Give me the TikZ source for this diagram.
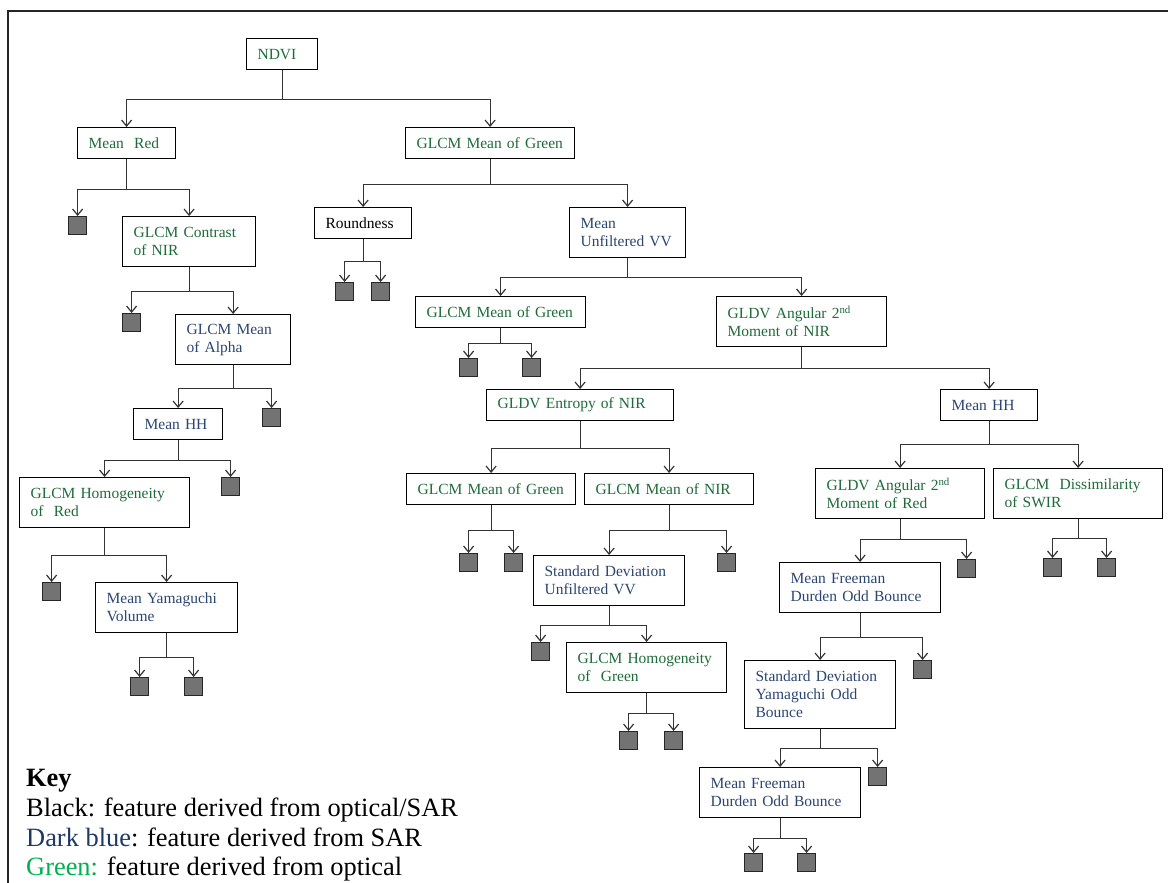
\documentclass[tikz,border=0pt]{standalone}
\usepackage{fontspec}
\setmainfont{Liberation Serif}
\usetikzlibrary{arrows.meta}
\definecolor{featgreen}{HTML}{1E6B3A}
\definecolor{featblue}{HTML}{2B4570}
\definecolor{keyblue}{HTML}{1F3864}
\definecolor{keygreen}{HTML}{00B050}
\begin{document}
\begin{tikzpicture}[x=1pt, y=-1pt,
        featbox/.style={draw=black, line width=1.2pt, anchor=north west, align=left, text width=#1, inner xsep=11pt, inner ysep=0pt, font=\fontsize{15.5}{18}\selectfont},
        lines1/.style={minimum height=31pt},
        lines2/.style={minimum height=50pt},
        lines3/.style={minimum height=68pt},
        leaf/.style={draw=black!85, fill=black!55, line width=1.2pt, anchor=north west, minimum width=18pt, minimum height=18pt, inner sep=0pt},
        link/.style={draw=black!80, line width=1.2pt, -{Straight Barb[length=6pt,width=10pt]}},
        keytext/.style={anchor=base west, inner sep=0pt, font=\fontsize{26.4}{30}\selectfont}]
        \useasboundingbox (0,0) rectangle (1168,883);
        \draw [line width=2pt, black!85] (1168,11) -- (8,11) -- (8,883);
        % feature boxes
        \node [featbox=49, lines1, text=featgreen] (ndvi) at (246,38) {NDVI};
        \node [featbox=76, lines1, text=featgreen] (meanred) at (77,127) {Mean~ Red};
        \node [featbox=147, lines1, text=featgreen] (glcmgreen) at (405,127) {GLCM Mean of Green};
        \node [featbox=111, lines2, text=featgreen] (contrastnir) at (122,216) {GLCM Contrast\\of NIR};
        \node [featbox=75, lines1] (roundness) at (314,207) {Roundness};
        \node [featbox=94, lines2, text=featblue] (meanvv) at (569,207) {Mean\\Unfiltered VV};
        \node [featbox=93, lines2, text=featblue] (alpha) at (175,314) {GLCM Mean\\of Alpha};
        \node [featbox=148, lines1, text=featgreen] (glcmgreenb) at (415,296) {GLCM Mean of Green};
        \node [featbox=148, lines2, text=featgreen] (angularnir) at (716,296) {GLDV Angular 2\textsuperscript{nd}\\Moment of NIR};
        \node [featbox=67, lines1, text=featblue] (meanhh) at (133,408) {Mean HH};
        \node [featbox=148, lines2, text=featgreen] (homogred) at (19,477) {GLCM Homogeneity\\of~ Red};
        \node [featbox=120, lines2, text=featblue] (yamvol) at (95,582) {Mean Yamaguchi\\Volume};
        \node [featbox=165, lines1, text=featgreen] (entropy) at (486,389) {GLDV Entropy of NIR};
        \node [featbox=75, lines1, text=featblue] (meanhhb) at (940,389) {Mean HH};
        \node [featbox=147, lines1, text=featgreen] (glcmgreenc) at (406,473) {GLCM Mean of Green};
        \node [featbox=147, lines1, text=featgreen] (meannir) at (584,473) {GLCM Mean of NIR};
        \node [featbox=129, lines2, text=featblue] (sdvv) at (533,555) {Standard Deviation\\Unfiltered VV};
        \node [featbox=138, lines2, text=featgreen] (homoggreen) at (566,642) {GLCM Homogeneity\\of~ Green};
        \node [featbox=147, lines2, text=featgreen] (angularred) at (815,468) {GLDV Angular 2\textsuperscript{nd}\\Moment of Red};
        \node [featbox=147, lines2, text=featgreen] (dissim) at (993,468) {GLCM~ Dissimilarity\\of SWIR};
        \node [featbox=139, lines2, text=featblue] (freeman) at (779,562) {Mean Freeman\\Durden Odd Bounce};
        \node [featbox=129, lines3, text=featblue] (sdyam) at (744,660) {Standard Deviation\\Yamaguchi Odd\\Bounce};
        \node [featbox=139, lines2, text=featblue] (freemanb) at (699,767) {Mean Freeman\\Durden Odd Bounce};
        % leaves
        \node [leaf] (meanredL) at (68,216) {};
        \node [leaf] (contrastnirL) at (122,313) {};
        \node [leaf] (alphaR) at (262,408) {};
        \node [leaf] (meanhhR) at (221,477) {};
        \node [leaf] (homogredL) at (42,582) {};
        \node [leaf] (yamvolL) at (130,677) {};
        \node [leaf] (yamvolR) at (184,677) {};
        \node [leaf] (roundnessL) at (335,282) {};
        \node [leaf] (roundnessR) at (371,282) {};
        \node [leaf] (glcmgreenbL) at (459,358) {};
        \node [leaf] (glcmgreenbR) at (522,358) {};
        \node [leaf] (glcmgreencL) at (459,553) {};
        \node [leaf] (glcmgreencR) at (504,553) {};
        \node [leaf] (meannirR) at (717,553) {};
        \node [leaf] (sdvvL) at (531,642) {};
        \node [leaf] (homoggreenL) at (619,731) {};
        \node [leaf] (homoggreenR) at (664,731) {};
        \node [leaf] (angularredR) at (957,559) {};
        \node [leaf] (dissimL) at (1043,558) {};
        \node [leaf] (dissimR) at (1097,558) {};
        \node [leaf] (freemanR) at (913,660) {};
        \node [leaf] (sdyamR) at (868,767) {};
        \node [leaf] (freemanbL) at (744,853) {};
        \node [leaf] (freemanbR) at (797,853) {};
        % links
        \draw [link] (ndvi.south) -- ++(0,29) -| (meanred.north);
        \draw [link] (ndvi.south) -- ++(0,29) -| (glcmgreen.north);
        \draw [link] (meanred.south) -- ++(0,30) -| (meanredL.north);
        \draw [link] (meanred.south) -- ++(0,30) -| (contrastnir.north);
        \draw [link] (glcmgreen.south) -- ++(0,25) -| (roundness.north);
        \draw [link] (glcmgreen.south) -- ++(0,25) -| (meanvv.north);
        \draw [link] (contrastnir.south) -- ++(0,24) -| (contrastnirL.north);
        \draw [link] (contrastnir.south) -- ++(0,24) -| (alpha.north);
        \draw [link] (alpha.south) -- ++(0,23) -| (meanhh.north);
        \draw [link] (alpha.south) -- ++(0,23) -| (alphaR.north);
        \draw [link] (meanhh.south) -- ++(0,20) -| (homogred.north);
        \draw [link] (meanhh.south) -- ++(0,20) -| (meanhhR.north);
        \draw [link] (homogred.south) -- ++(0,27) -| (homogredL.north);
        \draw [link] (homogred.south) -- ++(0,27) -| (yamvol.north);
        \draw [link] (yamvol.south) -- ++(0,24) -| (yamvolL.north);
        \draw [link] (yamvol.south) -- ++(0,24) -| (yamvolR.north);
        \draw [link] (roundness.south) -- ++(0,22) -| (roundnessL.north);
        \draw [link] (roundness.south) -- ++(0,22) -| (roundnessR.north);
        \draw [link] (meanvv.south) -- ++(0,19) -| (glcmgreenb.north);
        \draw [link] (meanvv.south) -- ++(0,19) -| (angularnir.north);
        \draw [link] (glcmgreenb.south) -- ++(0,15) -| (glcmgreenbL.north);
        \draw [link] (glcmgreenb.south) -- ++(0,15) -| (glcmgreenbR.north);
        \draw [link] (angularnir.south) -- ++(0,21) -| (entropy.north);
        \draw [link] (angularnir.south) -- ++(0,21) -| (meanhhb.north);
        \draw [link] (entropy.south) -- ++(0,27) -| (glcmgreenc.north);
        \draw [link] (entropy.south) -- ++(0,27) -| (meannir.north);
        \draw [link] (glcmgreenc.south) -- ++(0,25) -| (glcmgreencL.north);
        \draw [link] (glcmgreenc.south) -- ++(0,25) -| (glcmgreencR.north);
        \draw [link] (meannir.south) -- ++(0,25) -| (sdvv.north);
        \draw [link] (meannir.south) -- ++(0,25) -| (meannirR.north);
        \draw [link] (sdvv.south) -- ++(0,19) -| (sdvvL.north);
        \draw [link] (sdvv.south) -- ++(0,19) -| (homoggreen.north);
        \draw [link] (homoggreen.south) -- ++(0,20) -| (homoggreenL.north);
        \draw [link] (homoggreen.south) -- ++(0,20) -| (homoggreenR.north);
        \draw [link] (meanhhb.south) -- ++(0,23) -| (angularred.north);
        \draw [link] (meanhhb.south) -- ++(0,23) -| (dissim.north);
        \draw [link] (angularred.south) -- ++(0,20) -| (freeman.north);
        \draw [link] (angularred.south) -- ++(0,20) -| (angularredR.north);
        \draw [link] (dissim.south) -- ++(0,19) -| (dissimL.north);
        \draw [link] (dissim.south) -- ++(0,19) -| (dissimR.north);
        \draw [link] (freeman.south) -- ++(0,24) -| (sdyam.north);
        \draw [link] (freeman.south) -- ++(0,24) -| (freemanR.north);
        \draw [link] (sdyam.south) -- ++(0,19) -| (freemanb.north);
        \draw [link] (sdyam.south) -- ++(0,19) -| (sdyamR.north);
        \draw [link] (freemanb.south) -- ++(0,20) -| (freemanbL.north);
        \draw [link] (freemanb.south) -- ++(0,20) -| (freemanbR.north);
        % key
        \node [keytext] (keytitle) at (26,786) {\textbf{Key}};
        \node [keytext] (keyblack) at (26,816) {Black: feature derived from optical/SAR};
        \node [keytext] (keyblue) at (26,846) {\textcolor{keyblue}{Dark blue}: feature derived from SAR};
        \node [keytext] (keygreen) at (26,875) {\textcolor{keygreen}{Green:} feature derived from optical};
\end{tikzpicture}
\end{document}
